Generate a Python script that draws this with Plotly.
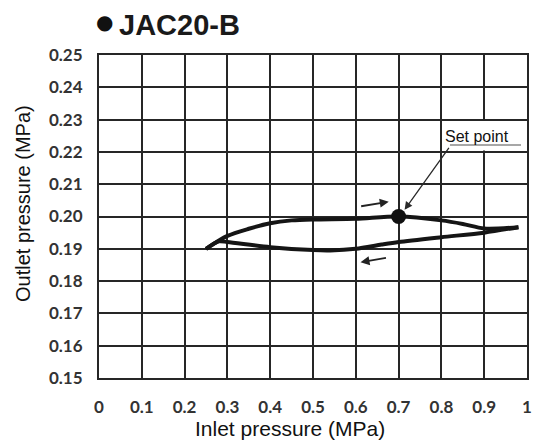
import plotly.graph_objects as go

# ---- data ----
x_tick_vals = [0, 0.1, 0.2, 0.3, 0.4, 0.5, 0.6, 0.7, 0.8, 0.9, 1.0]
x_tick_text = ["0", "0.1", "0.2", "0.3", "0.4", "0.5", "0.6", "0.7", "0.8", "0.9", "1"]
y_tick_vals = [0.15, 0.16, 0.17, 0.18, 0.19, 0.20, 0.21, 0.22, 0.23, 0.24, 0.25]
y_tick_text = ["0.15", "0.16", "0.17", "0.18", "0.19", "0.20", "0.21", "0.22", "0.23", "0.24", "0.25"]

# increasing inlet pressure branch
upper_x = [0.25, 0.30, 0.35, 0.40, 0.45, 0.50, 0.60, 0.70, 0.80, 0.85, 0.90, 0.98]
upper_y = [0.1900, 0.1940, 0.1962, 0.1979, 0.1988, 0.1991, 0.1993, 0.2000, 0.1988, 0.1977, 0.1963, 0.1967]
# decreasing inlet pressure branch
lower_x = [0.98, 0.90, 0.80, 0.70, 0.66, 0.60, 0.54, 0.50, 0.40, 0.30, 0.28, 0.25]
lower_y = [0.1967, 0.1950, 0.1936, 0.1921, 0.1913, 0.1900, 0.1895, 0.1896, 0.1905, 0.1921, 0.1923, 0.1900]

set_point_x = [0.70]
set_point_y = [0.200]

title_text = "JAC20-B"
x_title = "Inlet pressure (MPa)"
y_title = "Outlet pressure (MPa)"
set_label = "Set point"

fig = go.Figure()
fig.add_trace(go.Scatter(x=upper_x, y=upper_y, mode="lines",
                         line=dict(color="#151515", width=4, shape="spline", smoothing=0.8),
                         hoverinfo="skip", showlegend=False))
fig.add_trace(go.Scatter(x=lower_x, y=lower_y, mode="lines",
                         line=dict(color="#151515", width=4, shape="spline", smoothing=0.8),
                         hoverinfo="skip", showlegend=False))
fig.add_trace(go.Scatter(x=set_point_x, y=set_point_y, mode="markers",
                         marker=dict(color="#111", size=15),
                         hoverinfo="skip", showlegend=False))

grid = "#262626"
fig.update_xaxes(range=[0, 1], tickvals=x_tick_vals, ticktext=x_tick_text,
                 showgrid=True, gridcolor=grid, gridwidth=2,
                 showline=True, linecolor=grid, linewidth=2, mirror=True,
                 zeroline=False, ticks="", ticklabelstandoff=13, automargin=False,
                 tickfont=dict(family="Lato", size=17, color="#333", weight="bold"))
fig.update_yaxes(range=[0.15, 0.25], tickvals=y_tick_vals, ticktext=y_tick_text,
                 showgrid=True, gridcolor=grid, gridwidth=2,
                 showline=True, linecolor=grid, linewidth=2, mirror=True,
                 zeroline=False, ticks="", ticklabelstandoff=11, automargin=False,
                 tickfont=dict(family="Lato", size=17, color="#333", weight="bold"))

shapes = [
    # white label box covering grid behind "Set point"
    dict(type="rect", layer="between", xref="x", yref="y",
         x0=0.803, x1=0.997, y0=0.2204, y1=0.2296,
         fillcolor="white", line=dict(width=0)),
    # underline of label
    dict(type="line", xref="x", yref="y", x0=0.82, x1=0.986, y0=0.2221, y1=0.2221,
         line=dict(color="#8a8a8a", width=1.5)),
]

annotations = [
    dict(text="●", xref="paper", yref="paper", x=(104 - 99) / 428, y=1 + (55 - 22.5) / 323,
         showarrow=False, xanchor="center", yanchor="middle",
         font=dict(family="DejaVu Sans", size=20, color="#111")),
    dict(text=title_text, xref="paper", yref="paper", x=(117 - 99) / 428, y=1 + (55 - 25) / 323,
         showarrow=False, xanchor="left", yanchor="middle",
         font=dict(family="Liberation Sans", size=29, color="#1a1a1a", weight="bold")),
    dict(text=x_title, xref="paper", yref="paper", x=(290 - 99) / 428, y=-(428 - 378) / 323,
         showarrow=False, xanchor="center", yanchor="middle",
         font=dict(family="Liberation Sans", size=21, color="#111")),
    dict(text=y_title, xref="paper", yref="paper", x=-(99 - 23) / 428, y=(378 - 204) / 323,
         showarrow=False, xanchor="center", yanchor="middle", textangle=-90,
         font=dict(family="Liberation Sans", size=20, color="#111")),
    dict(text=set_label, xref="x", yref="y", x=0.804, y=0.2249,
         showarrow=False, xanchor="left", yanchor="middle",
         font=dict(family="Liberation Sans", size=16, color="#111")),
    # arrow from label to set point
    dict(text="", xref="x", yref="y", axref="x", ayref="y",
         x=0.714, y=0.2021, ax=0.820, ay=0.2217,
         showarrow=True, arrowhead=2, arrowsize=1.2, arrowwidth=1.3, arrowcolor="#2a2a2a"),
    # direction arrows
    dict(text="", xref="x", yref="y", axref="x", ayref="y",
         x=0.677, y=0.2046, ax=0.609, ay=0.2031,
         showarrow=True, arrowhead=2, arrowsize=1.0, arrowwidth=1.8, arrowcolor="#222"),
    dict(text="", xref="x", yref="y", axref="x", ayref="y",
         x=0.611, y=0.1858, ax=0.674, ay=0.1873,
         showarrow=True, arrowhead=2, arrowsize=1.0, arrowwidth=1.8, arrowcolor="#222"),
]

fig.update_layout(width=534, height=445,
                  margin=dict(l=99, r=7, t=55, b=67, autoexpand=False),
                  paper_bgcolor="white", plot_bgcolor="white",
                  shapes=shapes, annotations=annotations, showlegend=False)

fig.write_html("out.html", config={"displayModeBar": False},
               post_script="document.body.style.margin='0';")
